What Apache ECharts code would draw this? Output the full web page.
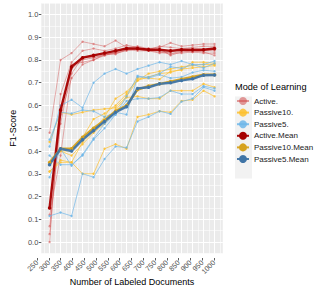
<!DOCTYPE html>
<html>
<head>
<meta charset="utf-8">
<script src="https://cdn.jsdelivr.net/npm/echarts@6/dist/echarts.min.js"></script>
<style>html,body{margin:0;padding:0;background:#fff}#c{width:314px;height:291px}</style>
</head>
<body>
<div id="c"></div>
<script>
// ---- data ----
var docs = [250,300,350,400,450,500,550,600,650,700,750,800,850,900,950,1000];
var yTicks = [0,0.1,0.2,0.3,0.4,0.5,0.6,0.7,0.8,0.9,1.0];

var activeRuns = [
  [0.48,0.80,0.83,0.88,0.87,0.86,0.885,0.855,0.86,0.85,0.855,0.875,0.86,0.865,0.87,0.87],
  [0.00,0.65,0.79,0.84,0.85,0.84,0.85,0.865,0.855,0.845,0.86,0.855,0.85,0.855,0.86,0.86],
  [0.035,0.56,0.72,0.78,0.80,0.82,0.83,0.845,0.84,0.84,0.83,0.835,0.845,0.84,0.845,0.845],
  [0.07,0.52,0.76,0.80,0.81,0.82,0.835,0.85,0.845,0.84,0.835,0.825,0.84,0.835,0.84,0.84],
  [0.15,0.57,0.78,0.79,0.80,0.825,0.83,0.84,0.85,0.85,0.84,0.83,0.83,0.835,0.83,0.83],
  [0.12,0.38,0.74,0.81,0.81,0.825,0.825,0.845,0.85,0.845,0.85,0.82,0.835,0.84,0.835,0.82]
];
var passive10Runs = [
  [0.31,0.35,0.35,0.30,0.30,0.41,0.43,0.41,0.55,0.56,0.575,0.57,0.62,0.625,0.665,0.64],
  [0.35,0.40,0.38,0.43,0.48,0.52,0.58,0.635,0.64,0.63,0.63,0.665,0.665,0.665,0.695,0.68],
  [0.44,0.57,0.56,0.57,0.58,0.585,0.59,0.64,0.71,0.725,0.74,0.745,0.76,0.765,0.77,0.775],
  [0.34,0.40,0.40,0.46,0.54,0.565,0.60,0.65,0.72,0.72,0.715,0.75,0.755,0.79,0.79,0.785],
  [0.31,0.36,0.35,0.44,0.49,0.55,0.63,0.66,0.71,0.74,0.75,0.76,0.77,0.775,0.78,0.78]
];
var passive5Runs = [
  [0.42,0.60,0.625,0.59,0.70,0.74,0.76,0.74,0.76,0.775,0.79,0.78,0.795,0.78,0.78,0.795],
  [0.115,0.13,0.115,0.30,0.285,0.365,0.42,0.415,0.53,0.55,0.575,0.563,0.617,0.63,0.68,0.665],
  [0.285,0.41,0.335,0.385,0.455,0.52,0.56,0.62,0.63,0.63,0.635,0.665,0.65,0.65,0.685,0.675],
  [0.38,0.34,0.34,0.38,0.45,0.50,0.56,0.64,0.73,0.72,0.735,0.72,0.725,0.745,0.755,0.75],
  [0.45,0.57,0.565,0.58,0.575,0.55,0.57,0.56,0.725,0.725,0.74,0.77,0.763,0.78,0.765,0.785]
];
var activeMean = [0.15,0.58,0.77,0.81,0.82,0.83,0.84,0.85,0.85,0.845,0.845,0.84,0.845,0.845,0.845,0.85];
var passive10Mean = [0.35,0.41,0.41,0.46,0.50,0.535,0.575,0.60,0.67,0.685,0.695,0.705,0.715,0.725,0.735,0.735];
var passive5Mean = [0.34,0.41,0.40,0.45,0.49,0.53,0.57,0.595,0.675,0.68,0.695,0.70,0.71,0.717,0.733,0.734];

// ---- chart ----
function pairs(vals){ return docs.map(function(d,i){ return [d, vals[i]]; }); }
function thin(name, vals, color, op){
  return {name:name, type:'line', data:pairs(vals), symbol:'circle', symbolSize:2.4,
    lineStyle:{color:color, width:0.8, opacity:op}, itemStyle:{color:color, opacity:op},
    emphasis:{disabled:true}, animation:false, z:2};
}
function thick(name, vals, color){
  return {name:name, type:'line', data:pairs(vals), symbol:'circle', symbolSize:3.5,
    lineStyle:{color:color, width:2.4, opacity:0.95}, itemStyle:{color:color},
    emphasis:{disabled:true}, animation:false, z:3};
}
var series = [];
activeRuns.forEach(function(r){ series.push(thin('Active.', r, '#D24A4A', 0.55)); });
passive10Runs.forEach(function(r){ series.push(thin('Passive10.', r, '#FDBF2D', 0.85)); });
passive5Runs.forEach(function(r){ series.push(thin('Passive5.', r, '#6DB6E9', 0.85)); });
series.push(thick('Active.Mean', activeMean, '#A60000'));
series.push(thick('Passive10.Mean', passive10Mean, '#D6A21E'));
series.push(thick('Passive5.Mean', passive5Mean, '#3F74A6'));

var FONT = 'Liberation Sans, Arial, sans-serif';
var W = '#FFFFFF', M = 'rgba(255,255,255,0.55)', N = 'rgba(255,255,255,0)';
var docLabels = docs.map(String);

var chart = echarts.init(document.getElementById('c'), null, {renderer:'svg'});
chart.setOption({
  animation:false,
  textStyle:{fontFamily:FONT},
  grid:[
    {left:28, right:91.2, top:3, bottom:33, show:true, backgroundColor:'#EBEBEB', borderWidth:0, containLabel:false},
    // label grid: category centres coincide with the data positions 250..1000
    {left:31.1, right:94.1, top:3, bottom:33, show:false, containLabel:false}
  ],
  xAxis:[
    {type:'value', gridIndex:0, min:212.5, max:1037.5, interval:12.5, axisLine:{show:false}, axisTick:{show:false}, axisLabel:{show:false},
     splitLine:{show:true, lineStyle:{color:[N,M,N,W], width:1}},
     name:'Number of Labeled Documents', nameLocation:'middle', nameGap:23.5,
     nameTextStyle:{fontSize:9, color:'#000', fontFamily:FONT}},
    {type:'category', gridIndex:1, data:docLabels, boundaryGap:true, position:'bottom', axisLine:{show:false},
     axisTick:{show:true, alignWithLabel:true, interval:0, length:2.5, lineStyle:{color:'#333333', width:0.8}},
     axisLabel:{show:true, rotate:45, interval:0, hideOverlap:false, fontSize:7.2, color:'#555555', margin:3.5, fontFamily:FONT},
     splitLine:{show:false}}
  ],
  yAxis:[
    {type:'value', gridIndex:0, min:-0.05, max:1.05, interval:0.025, axisLine:{show:false}, axisTick:{show:false}, axisLabel:{show:false},
     splitLine:{show:true, lineStyle:{color:[M,N,W,N], width:1}}},
    {type:'value', gridIndex:0, min:-0.05, max:1.05, position:'left', axisLine:{show:false},
     axisTick:{show:true, customValues:yTicks, length:2.5, lineStyle:{color:'#333333', width:0.8}},
     axisLabel:{show:true, customValues:yTicks, hideOverlap:false, fontSize:7.5, color:'#4D4D4D', margin:3, fontFamily:FONT,
       formatter:function(v){ return (Math.round(v*10)/10).toFixed(1); }},
     splitLine:{show:false},
     name:'F1-Score', nameLocation:'middle', nameGap:20.5, nameRotate:90,
     nameTextStyle:{fontSize:9, color:'#000', fontFamily:FONT}},
    {type:'value', gridIndex:1, show:false}
  ],
  legend:{orient:'vertical', left:236, top:97, itemWidth:12, itemHeight:10, itemGap:3.6, padding:0,
    selectedMode:false,
    data:['Active.','Passive10.','Passive5.','Active.Mean','Passive10.Mean','Passive5.Mean'],
    textStyle:{fontSize:8, color:'#1A1A1A', fontFamily:FONT}},
  graphic:[
    {type:'rect', shape:{x:235, y:96.5, width:17, height:82}, style:{fill:'#F2F2F2'}, z:-1, silent:true},
    {type:'text', x:235, y:86.7, style:{text:'Mode of Learning', fontSize:9.2, fill:'#000', fontFamily:FONT, textVerticalAlign:'middle'}, silent:true}
  ],
  series: series.map(function(s){ s.xAxisIndex=0; s.yAxisIndex=0; return s; })
});
</script>
</body>
</html>
